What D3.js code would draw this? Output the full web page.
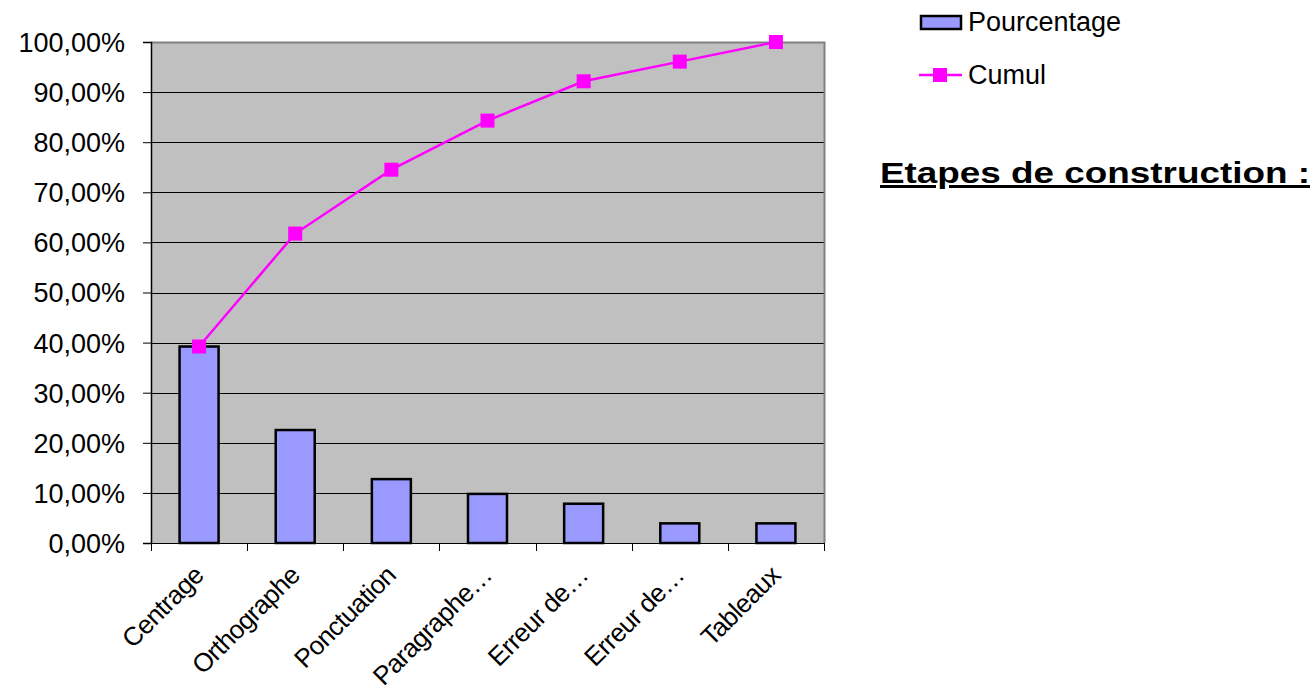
<!DOCTYPE html>
<html><head><meta charset="utf-8">
<script src="https://cdn.jsdelivr.net/npm/d3@7"></script>
<style>body{margin:0;background:#fff}svg{display:block}</style>
</head><body>
<script>
const categories = ["Centrage","Orthographe","Ponctuation","Paragraphe…","Erreur de…","Erreur de…","Tableaux"];
const pourcentage = [39.22, 22.55, 12.75, 9.80, 7.84, 3.92, 3.92];
const cumul = [39.22, 61.76, 74.51, 84.31, 92.16, 96.08, 100.00];
const yTicks = [0,10,20,30,40,50,60,70,80,90,100];
const legendLabels = ["Pourcentage","Cumul"];
const titleText = "Etapes de construction :";

const W = 1315, H = 692;
const svg = d3.select("body").append("svg").attr("width", W).attr("height", H)
  .style("font-family","'Liberation Sans', Arial, sans-serif");
const m = {l:151, r:824, t:42, b:543};
const x = d3.scaleBand().domain(d3.range(categories.length)).range([m.l, m.r]).paddingInner(0).paddingOuter(0);
const y = d3.scaleLinear().domain([0,100]).range([m.b, m.t]);

svg.append("rect").attr("x", m.l).attr("y", m.t).attr("width", m.r-m.l).attr("height", m.b-m.t).attr("fill","#C0C0C0");
// gridlines
svg.append("g").selectAll("line").data(yTicks.filter(d=>d>0 && d<100)).join("line")
  .attr("x1", m.l).attr("x2", m.r).attr("y1", d=>Math.round(y(d))+0.5).attr("y2", d=>Math.round(y(d))+0.5)
  .attr("stroke","#000").attr("stroke-width",1);
// border top/right
svg.append("path").attr("d", `M${m.l},${m.t+0.5}H${m.r+0.5}V${m.b}`).attr("fill","none").attr("stroke","#808080").attr("stroke-width",2);

// y axis
const fmt = d => d.toFixed(2).replace(".", ",") + "%";
const ya = svg.append("g").attr("transform", `translate(${m.l},0)`)
  .call(d3.axisLeft(y).tickValues(yTicks).tickFormat(fmt).tickSize(8).tickPadding(18));
ya.select(".domain").attr("stroke","#000").attr("stroke-width",1.5);
ya.selectAll(".tick line").attr("stroke","#000");
ya.selectAll("text").attr("font-size", 27).attr("fill","#000").attr("dy","0.35em");

// x axis
const xa = svg.append("g").attr("transform", `translate(0,${m.b})`)
  .call(d3.axisBottom(x).tickValues([]).tickSize(0));
xa.select(".domain").attr("stroke","#000").attr("stroke-width",1);
const bounds = d3.range(categories.length+1).map(i => m.l + i*x.bandwidth());
svg.append("g").selectAll("line").data(bounds).join("line")
  .attr("x1", d=>Math.round(d)+0.5).attr("x2", d=>Math.round(d)+0.5).attr("y1", m.b).attr("y2", m.b+8)
  .attr("stroke","#000");
svg.append("g").selectAll("text").data(categories).join("text")
  .attr("transform", (d,i)=>`translate(${x(i)+x.bandwidth()/2+6},${m.b+34}) rotate(-45)`)
  .attr("text-anchor","end").attr("font-size",26).attr("letter-spacing","-0.6px").attr("fill","#000").text(d=>d);

// bars
const bw = 39;
svg.append("g").selectAll("rect").data(pourcentage).join("rect")
  .attr("x", (d,i)=>x(i)+x.bandwidth()/2-bw/2).attr("y", d=>y(d)).attr("width", bw).attr("height", d=>m.b-y(d))
  .attr("fill","#9999FF").attr("stroke","#000").attr("stroke-width",2.5);

// line
const line = d3.line().x((d,i)=>x(i)+x.bandwidth()/2).y(d=>y(d));
svg.append("path").datum(cumul).attr("d", line).attr("fill","none").attr("stroke","#FF00FF").attr("stroke-width",2.5);
svg.append("g").selectAll("rect").data(cumul).join("rect")
  .attr("x", (d,i)=>x(i)+x.bandwidth()/2-7).attr("y", d=>y(d)-7).attr("width",14).attr("height",14)
  .attr("fill","#FF00FF");

// legend
const lg = svg.append("g");
lg.append("rect").attr("x",921).attr("y",16).attr("width",40).attr("height",13).attr("fill","#9999FF").attr("stroke","#000").attr("stroke-width",2.5);
lg.append("text").attr("x",968).attr("y",31).attr("font-size",27).text(legendLabels[0]);
lg.append("line").attr("x1",919).attr("x2",962).attr("y1",75).attr("y2",75).attr("stroke","#FF00FF").attr("stroke-width",2.5);
lg.append("rect").attr("x",933).attr("y",68).attr("width",14).attr("height",14).attr("fill","#FF00FF");
lg.append("text").attr("x",968).attr("y",84).attr("font-size",27).text(legendLabels[1]);

// title
svg.append("text").attr("x",880).attr("y",183).attr("font-size",30).attr("font-weight","bold")
  .attr("text-decoration","underline").attr("textLength",430).attr("lengthAdjust","spacingAndGlyphs").text(titleText);
</script>
</body></html>
